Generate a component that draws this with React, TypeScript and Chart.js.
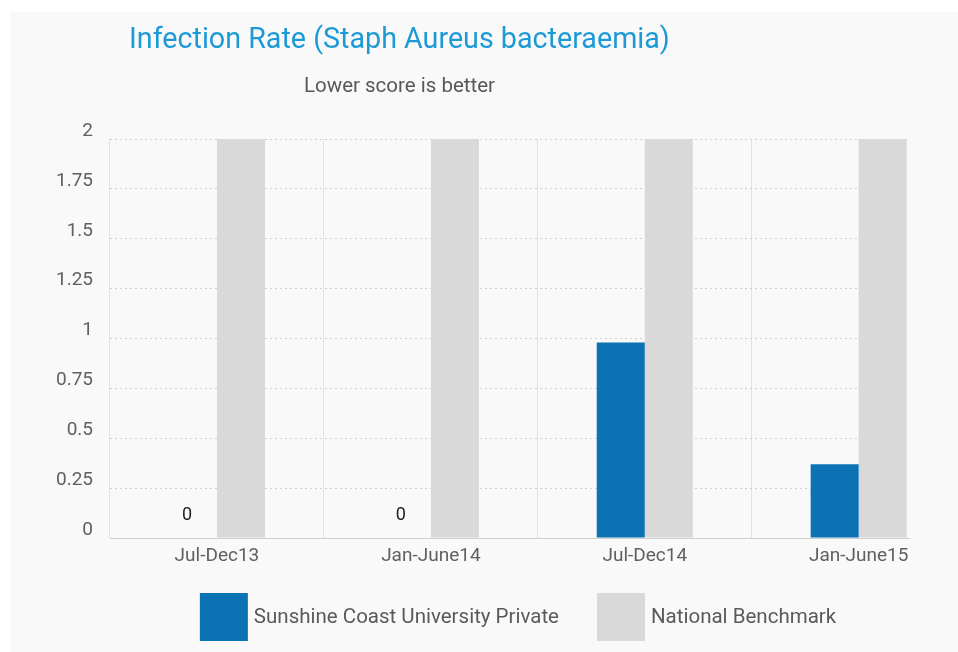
import React, { useEffect, useRef } from 'react';
import { Chart, registerables } from 'chart.js';

Chart.register(...registerables);

// Reporting periods and infection rates
const periods = ['Jul-Dec13', 'Jan-June14', 'Jul-Dec14', 'Jan-June15'];
const hospitalRate = [0, 0, 0.98, 0.37];
const benchmarkRate = [2, 2, 2, 2];
const yTickValues = [0, 0.25, 0.5, 0.75, 1, 1.25, 1.5, 1.75, 2];

const TITLE = 'Infection Rate (Staph Aureus bacteraemia)';
const SUBTITLE = 'Lower score is better';
const HOSPITAL_LABEL = 'Sunshine Coast University Private';
const BENCHMARK_LABEL = 'National Benchmark';

const BLUE = '#0b72b4';
const GREY = '#d9d9d9';
const TITLE_BLUE = '#1d9ad6';
const FONT = 'Roboto, "Noto Sans", sans-serif';

const W = 958;
const H = 652;

// Light panel behind the chart
const panelPlugin = {
  id: 'panel',
  beforeDraw(chart: any) {
    const { ctx } = chart;
    ctx.save();
    ctx.fillStyle = '#ffffff';
    ctx.fillRect(0, 0, chart.width, chart.height);
    ctx.fillStyle = '#f9f9f9';
    ctx.fillRect(10, 12, chart.width - 10, chart.height - 12);
    ctx.restore();
  },
};

// Title and subtitle
const headerPlugin = {
  id: 'header',
  afterDraw(chart: any) {
    const { ctx } = chart;
    ctx.save();
    ctx.textBaseline = 'alphabetic';
    ctx.textAlign = 'left';
    ctx.fillStyle = TITLE_BLUE;
    ctx.font = `28.7px ${FONT}`;
    ctx.fillText(TITLE, 129, 48);
    ctx.fillStyle = '#585858';
    ctx.font = `20.5px ${FONT}`;
    ctx.fillText(SUBTITLE, 304, 92);
    ctx.restore();
  },
};

// Value labels for the periods with no recorded cases
const zeroLabelPlugin = {
  id: 'zeroLabels',
  afterDatasetsDraw(chart: any) {
    const { ctx } = chart;
    const meta = chart.getDatasetMeta(0);
    ctx.save();
    ctx.fillStyle = '#222222';
    ctx.font = `18px ${FONT}`;
    ctx.textAlign = 'center';
    ctx.textBaseline = 'middle';
    meta.data.forEach((bar: any, i: number) => {
      const v = hospitalRate[i];
      if (v === 0) ctx.fillText(String(v), bar.x - 6, bar.y - 23);
    });
    ctx.restore();
  },
};

// Legend with square swatches below the axis
const legendPlugin = {
  id: 'swatchLegend',
  afterDraw(chart: any) {
    const { ctx, chartArea } = chart;
    const box = 48;
    const gap = 6;
    const spacing = 38;
    ctx.save();
    ctx.font = `20.5px ${FONT}`;
    const items = chart.data.datasets.map((ds: any) => ({
      label: ds.label,
      color: ds.backgroundColor,
      w: ctx.measureText(ds.label).width,
    }));
    const total = items.reduce((s: number, it: any) => s + box + gap + it.w, 0) + spacing * (items.length - 1);
    let x = (chartArea.left + chartArea.right) / 2 + 8 - total / 2;
    const top = chartArea.bottom + 55;
    items.forEach((it: any) => {
      ctx.fillStyle = it.color;
      ctx.fillRect(x, top, box, box);
      ctx.fillStyle = '#5a5a5a';
      ctx.textAlign = 'left';
      ctx.textBaseline = 'middle';
      ctx.fillText(it.label, x + box + gap, top + box / 2 + 1);
      x += box + gap + it.w + spacing;
    });
    ctx.restore();
  },
};

export default function App() {
  const canvasRef = useRef<HTMLCanvasElement | null>(null);

  useEffect(() => {
    const canvas = canvasRef.current;
    if (!canvas) return;
    const chart = new Chart(canvas, {
      type: 'bar',
      data: {
        datasets: [
          {
            label: HOSPITAL_LABEL,
            data: hospitalRate.map((y, i) => ({ x: i, y })),
            backgroundColor: BLUE,
          },
          {
            label: BENCHMARK_LABEL,
            data: benchmarkRate.map((y, i) => ({ x: i, y })),
            backgroundColor: GREY,
          },
        ],
      },
      options: {
        animation: false,
        responsive: false,
        devicePixelRatio: 1,
        layout: { padding: { top: 139, right: 48, bottom: 84, left: 0 } },
        datasets: { bar: { categoryPercentage: 0.449, barPercentage: 1 } },
        plugins: {
          legend: { display: false },
          tooltip: { enabled: false },
        },
        scales: {
          x: {
            type: 'linear',
            min: -0.5,
            max: 3.24,
            offset: false,
            afterBuildTicks: (scale: any) => {
              scale.ticks = periods.map((_, i) => ({ value: i }));
            },
            afterFit: (scale: any) => {
              scale.height = 30;
            },
            ticks: {
              callback: (v: any) => periods[v],
              font: { family: FONT, size: 19 },
              color: '#606060',
              padding: 7,
              maxRotation: 0,
              autoSkip: false,
            },
            grid: { offset: true, color: '#e2e2e2', drawTicks: false, lineWidth: 1 },
            border: { display: false },
          },
          y: {
            min: 0,
            max: 2,
            afterBuildTicks: (scale: any) => {
              scale.ticks = yTickValues.map((value) => ({ value }));
            },
            afterFit: (scale: any) => {
              scale.width = 110;
            },
            ticks: {
              callback: (v: any) => String(v),
              font: { family: FONT, size: 19 },
              color: '#606060',
              padding: 17,
              labelOffset: -8,
            },
            grid: { color: '#cfcfcf', drawTicks: false, lineWidth: 1 },
            border: {
              display: false,
              dash: (ctx: any) => (ctx.tick && ctx.tick.value === 0 ? [] : [2, 3]),
            },
          },
        },
      } as any,
      plugins: [panelPlugin, headerPlugin, zeroLabelPlugin, legendPlugin],
    });
    return () => chart.destroy();
  }, []);

  return (
    <div style={{ position: 'fixed', left: 0, top: 0, width: W, height: H, overflow: 'hidden', background: '#fff' }}>
      <canvas ref={canvasRef} width={W} height={H} style={{ display: 'block', width: W, height: H }} />
    </div>
  );
}
